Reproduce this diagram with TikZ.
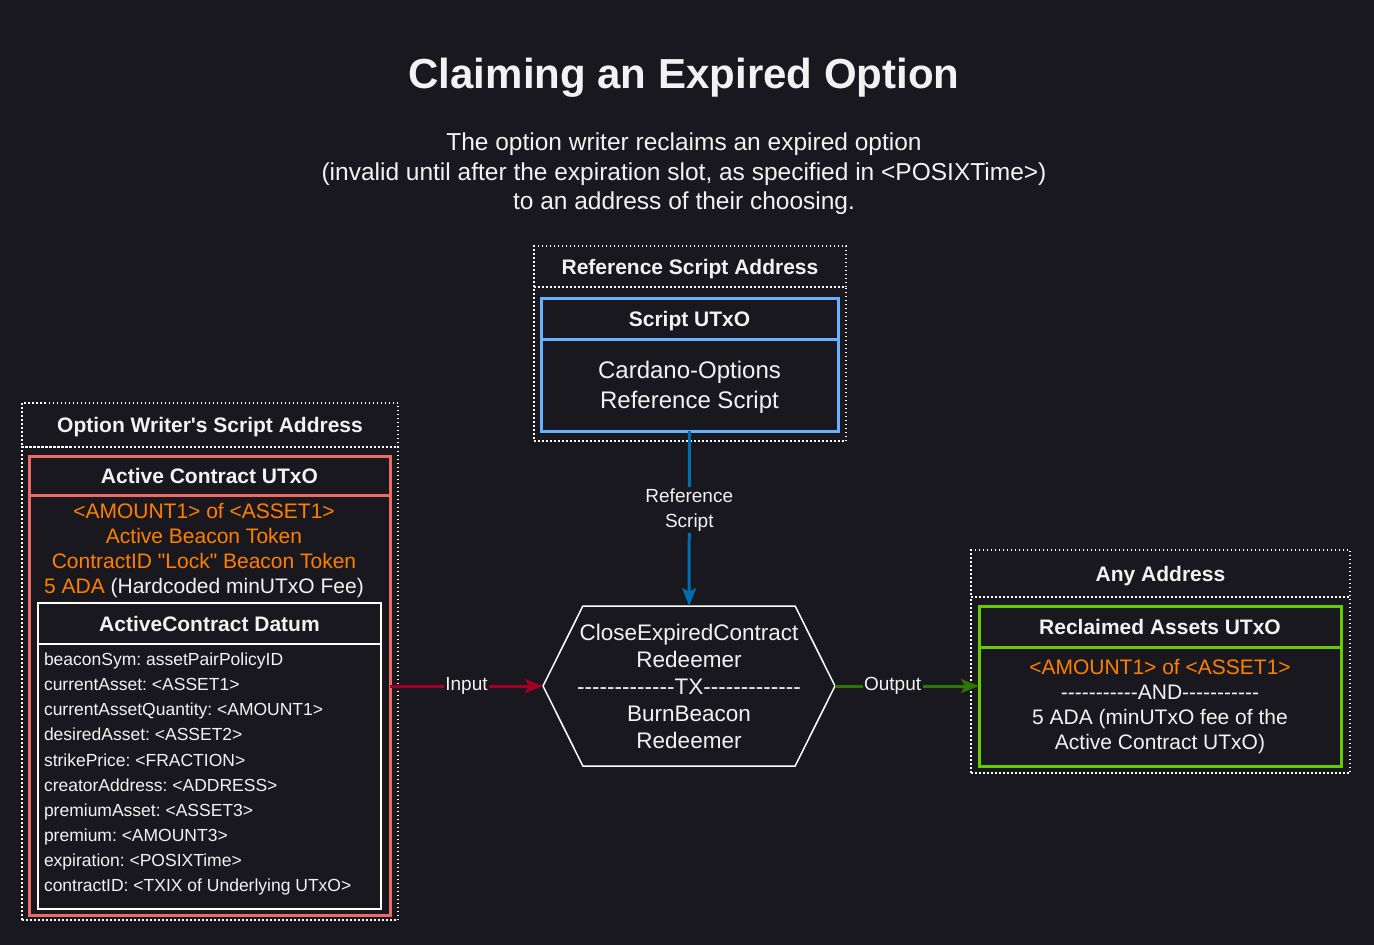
\documentclass[tikz,border=0pt]{standalone}
\usepackage{fontspec}
\setmainfont{Liberation Sans}[Ligatures=TeXOff]
\usetikzlibrary{shapes,shapes.geometric,shapes.symbols,arrows.meta,calc,positioning}

\definecolor{bgcol}{HTML}{19181F}
\definecolor{txtcol}{HTML}{F2F2F2}
\definecolor{utxored}{HTML}{EA6B66}
\definecolor{amtorange}{HTML}{FF8000}
\definecolor{inred}{HTML}{A20025}
\definecolor{utxoblue}{HTML}{66B2FF}
\definecolor{refblue}{HTML}{006EAF}
\definecolor{utxogreen}{HTML}{66CC00}
\definecolor{outgreen}{HTML}{2D7600}

\newcommand{\amt}[1]{\textcolor{amtorange}{#1}}
\frenchspacing

\begin{document}
\begin{tikzpicture}
   [x=1pt,y=-1pt,
   every node/.style={text=txtcol,inner sep=0pt,outer sep=0pt},
   addr/.style={draw=white,line width=1.5pt,dash pattern=on 1.5pt off 2.5pt,
   	minimum width=#1},
   hdr/.style={font=\bfseries\fontsize{21}{25}\selectfont,text height=15pt,text depth=0pt},
   body/.style={font=\fontsize{21}{25}\selectfont,align=center},
   utxo/.style={draw=#1,line width=3pt},
   field/.style={font=\fontsize{17.5}{21}\selectfont,anchor=base west},
   elabel/.style={fill=bgcol,inner sep=1.5pt,align=center,
   	font=\fontsize{19}{25}\selectfont},
   flow/.style={line width=3pt,draw=#1,-{Stealth[length=18pt,width=14pt,inset=4pt]}}]
   		\fill[bgcol] (0,0) rectangle (1374,945);
   		% title
   		\node (title) at (684,78) {\bfseries\fontsize{42}{48}\selectfont Claiming an Expired Option};
   		\node[align=center,font=\fontsize{24.5}{29.5}\selectfont] (sub) at (684,174)
   		{The option writer reclaims an expired option\\
   		(invalid until after the expiration slot, as specified in <POSIXTime>)\\
   		to an address of their choosing.};
   		% option writer side
   		\node[addr=376pt,hdr,minimum height=44pt,anchor=north west] (owHead) at (22,403)
   		{Option Writer's Script Address};
   		\node[addr=376pt,minimum height=473pt,below=0pt of owHead] (owBody) {};
   		\node[utxo=utxored,hdr,minimum width=361pt,minimum height=39pt,anchor=north west]
   		(acHead) at (29,456) {Active Contract UTxO};
   		\node[utxo=utxored,minimum width=361pt,minimum height=420pt,below=0pt of acHead]
   		(acBody) {};
   		\node[body] (acText) at (204,550.5)
   		{\amt{<AMOUNT1> of <ASSET1>}\\
   		\amt{Active Beacon Token}\\
   		\amt{ContractID "Lock" Beacon Token}\\
   		\amt{5 ADA} (Hardcoded minUTxO Fee)};
   		\node[draw=white,line width=1.5pt,hdr,minimum width=343pt,minimum height=41pt,
   		anchor=north west] (dtHead) at (38,603) {ActiveContract Datum};
   		\node[draw=white,line width=1.5pt,minimum width=343pt,minimum height=265pt,
   		below=0pt of dtHead] (dtBody) {};
   		\foreach \fieldText [count=\i] in {beaconSym: assetPairPolicyID,
   			currentAsset: <ASSET1>,currentAssetQuantity: <AMOUNT1>,
   			desiredAsset: <ASSET2>,strikePrice: <FRACTION>,
   			creatorAddress: <ADDRESS>,premiumAsset: <ASSET3>,
   			premium: <AMOUNT3>,expiration: <POSIXTime>,
   			contractID: <TXIX of Underlying UTxO>}
   		{
   			\node[field] (dt\i) at (44,{665.5+(\i-1)*25.15}) {\fieldText};
   		}
   		% reference script
   		\node[addr=312pt,hdr,minimum height=41pt,anchor=north west] (rsHead) at (534,246)
   		{Reference Script Address};
   		\node[addr=312pt,minimum height=154pt,below=0pt of rsHead] (rsBody) {};
   		\node[utxo=utxoblue,hdr,minimum width=297pt,minimum height=41pt,anchor=north west]
   		(suHead) at (541,298) {Script UTxO};
   		\node[utxo=utxoblue,minimum width=297pt,minimum height=92pt,below=0pt of suHead,
   		align=center,font=\fontsize{24}{30}\selectfont,text depth=0pt] (suBody)
   		{Cardano-Options\\Reference Script};
   		% transaction
   		\node[shape=signal,signal to=west and east,signal pointer angle=127,
   		draw=white,line width=1.5pt,minimum width=292pt,minimum height=160pt] (tx) at (689,686) {};
   		\node[align=center,font=\fontsize{22.5}{27}\selectfont] (txText) at (tx.center)
   		{CloseExpiredContract\\Redeemer\\-------------TX-------------\\BurnBeacon\\Redeemer};
   		% any address
   		\node[addr=379pt,hdr,minimum height=47pt,anchor=north west] (adHead) at (971,550)
   		{Any Address};
   		\node[addr=379pt,minimum height=176pt,below=0pt of adHead] (adBody) {};
   		\node[utxo=utxogreen,hdr,minimum width=362pt,minimum height=41pt,anchor=north west]
   		(raHead) at (979,606) {Reclaimed Assets UTxO};
   		\node[utxo=utxogreen,minimum width=362pt,minimum height=119pt,below=0pt of raHead,
   		body] (raBody)
   		{\amt{<AMOUNT1> of <ASSET1>}\\-----------AND-----------\\
   		5 ADA (minUTxO fee of the\\Active Contract UTxO)};
   		% flows
   		\draw[flow=refblue] (suBody) -- node[elabel,pos=0.45]{Reference\\Script} (tx);
   		\draw[flow=inred] (acBody.east |- tx.west) -- node[elabel]{Input} (tx.west);
   		\draw[flow=outgreen] (tx.east) -- node[elabel,pos=0.4]{Output} (raBody.west |- tx.east);
\end{tikzpicture}
\end{document}
